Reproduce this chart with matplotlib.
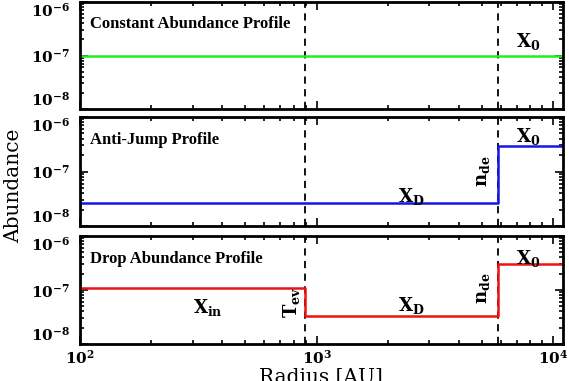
import math
import matplotlib
matplotlib.use("Agg")
import matplotlib.pyplot as plt
from matplotlib.ticker import LogLocator, FixedLocator, FuncFormatter, NullFormatter

# ---- data ----
x_range = [1e2, 1.1e4]
y_range = [1e-8, 1e-6]
y_ticks = [1e-8, 1e-7, 1e-6]
x_ticks = [1e2, 1e3, 1e4]
r_evap = 890.0      # T_ev radius [AU]
r_dens = 5850.0     # n_de radius [AU]

const_X0 = 1.0e-7

antijump_XD = 2.6e-8
antijump_X0 = 2.9e-7

drop_Xin = 1.07e-7
drop_XD = 3.3e-8
drop_X0 = 3.0e-7

panel_titles = ["Constant Abundance Profile", "Anti-Jump Profile", "Drop Abundance Profile"]

plt.rcParams['mathtext.fontset'] = 'dejavuserif'
plt.rcParams['font.family'] = 'DejaVu Serif'

fig = plt.figure(figsize=(5.69, 3.81), dpi=100)
L = 80/569
W = 483/569
rects = [
    (L, 1-109/381, W, 107/381),
    (L, 1-226/381, W, 109/381),
    (L, 1-344/381, W, 108/381),
]
axes = [fig.add_axes(r) for r in rects]

def fmt(v, pos):
    e = int(round(math.log10(v)))
    return r'$\mathbf{10^{%d}}$' % e

for i, ax in enumerate(axes):
    ax.set_xscale('log')
    ax.set_yscale('log')
    ax.set_xlim(*x_range)
    ax.set_ylim(*y_range)
    for s in ax.spines.values():
        s.set_linewidth(2)
    ax.tick_params(which='both', direction='in', top=True, right=True, width=1.2)
    ax.tick_params(which='major', length=6, labelsize=11)
    ax.tick_params(axis='y', which='major', pad=7)
    ax.tick_params(which='minor', length=3)
    ax.yaxis.set_major_locator(FixedLocator(y_ticks))
    ax.yaxis.set_minor_locator(LogLocator(base=10, subs=range(2, 10), numticks=20))
    ax.yaxis.set_major_formatter(FuncFormatter(fmt))
    ax.yaxis.set_minor_formatter(NullFormatter())
    ax.xaxis.set_major_locator(FixedLocator(x_ticks))
    ax.xaxis.set_minor_locator(LogLocator(base=10, subs=range(2, 10), numticks=20))
    ax.xaxis.set_minor_formatter(NullFormatter())
    if i < 2:
        ax.tick_params(axis='x', labelbottom=False)
    else:
        ax.xaxis.set_major_formatter(FuncFormatter(fmt))
    fig.canvas.draw()
    labs = ax.get_yticklabels()
    labs[0].set_va('bottom')
    labs[-1].set_va('top')
    ax.axvline(r_evap, color='black', ls=(0, (4, 3)), lw=1.3, zorder=1)
    ax.axvline(r_dens, color='black', ls=(0, (4, 3)), lw=1.3, zorder=1)
    ax.text(0.02, 0.79, panel_titles[i], transform=ax.transAxes,
            fontsize=12, fontweight='bold', family='Liberation Serif', va='center', ha='left')

# Constant
axes[0].plot(x_range, [const_X0, const_X0], color='#22ee22', lw=1.8, zorder=2)
# Anti-jump
axes[1].step([x_range[0], r_dens, x_range[1]], [antijump_XD, antijump_X0, antijump_X0],
             where='post', color='#1515e8', lw=1.8, zorder=2)
# Drop
axes[2].step([x_range[0], r_evap, r_dens, x_range[1]], [drop_Xin, drop_XD, drop_X0, drop_X0],
             where='post', color='#ee1111', lw=1.8, zorder=2)

lab = dict(fontsize=13, ha='center', va='center')
axes[0].text(7800, 1.8e-7, r'$\mathbf{X_0}$', **lab)
axes[1].text(7800, 4.3e-7, r'$\mathbf{X_0}$', **lab)
axes[1].text(2520, 3.5e-8, r'$\mathbf{X_D}$', **lab)
axes[1].text(5050, 1.0e-7, r'$\mathbf{n_{de}}$', rotation=90, **lab)
axes[2].text(7800, 3.9e-7, r'$\mathbf{X_0}$', **lab)
axes[2].text(2520, 5.1e-8, r'$\mathbf{X_D}$', **lab)
axes[2].text(5050, 1.09e-7, r'$\mathbf{n_{de}}$', rotation=90, **lab)
axes[2].text(348, 4.8e-8, r'$\mathbf{X_{in}}$', **lab)
axes[2].text(780, 6.0e-8, r'$\mathbf{T_{ev}}$', rotation=90, **lab)

fig.text(0.024, 0.512, 'Abundance', rotation=90, fontsize=14.5, ha='center', va='center')
fig.text(321/569, 1-377/381, 'Radius [AU]', fontsize=14.5, ha='center', va='center')

fig.savefig('out.png', dpi=100)
